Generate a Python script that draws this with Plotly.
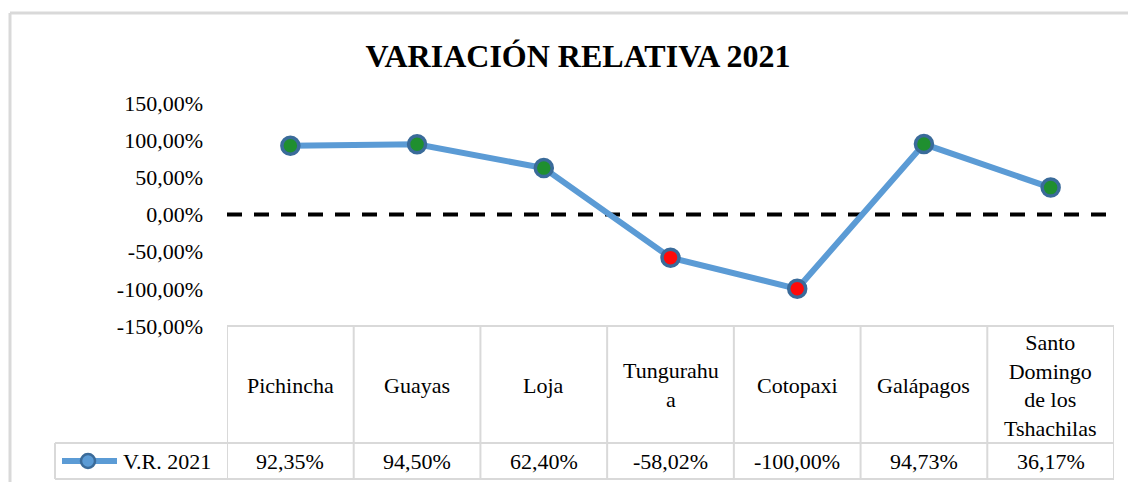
import plotly.graph_objects as go

categories = ["Pichincha", "Guayas", "Loja", "Tungurahua", "Cotopaxi", "Galápagos",
              "Santo Domingo de los Tshachilas"]
header_labels = ["Pichincha", "Guayas", "Loja", "Tungurahu<br>a", "Cotopaxi", "Galápagos",
                 "Santo<br>Domingo<br>de los<br>Tshachilas"]
values = [92.35, 94.50, 62.40, -58.02, -100.00, 94.73, 36.17]
value_labels = ["92,35%", "94,50%", "62,40%", "-58,02%", "-100,00%", "94,73%", "36,17%"]
series_name = "V.R. 2021"
y_ticks = [-150, -100, -50, 0, 50, 100, 150]
y_tick_labels = ["-150,00%", "-100,00%", "-50,00%", "0,00%", "50,00%", "100,00%", "150,00%"]

W, H = 1128, 482
L, R, T, B = 227, 14, 103, 156
PW = W - L - R
PH = H - T - B

def py(pix):
    return (H - B - pix) / PH

def px(pix):
    return (pix - L) / PW

FONT = "Liberation Serif"
LINE_C = "#5b9bd5"
RING_C = "#3a6b9a"
GRID_C = "#d9d9d9"

x_idx = list(range(len(categories)))
marker_colors = ["#1f8f2f" if v >= 0 else "#ff0a0a" for v in values]

fig = go.Figure()
fig.add_trace(go.Scatter(
    x=x_idx, y=values, mode="lines+markers", name=series_name, showlegend=False,
    line=dict(color=LINE_C, width=6),
    marker=dict(size=17, color=marker_colors, line=dict(color=RING_C, width=3.5)),
))

shapes = []
shapes.append(dict(type="line", xref="paper", yref="y", x0=0, x1=1, y0=0, y1=0,
                   line=dict(color="black", width=4, dash="15px,12px"), layer="below"))
shapes.append(dict(type="line", xref="paper", yref="paper", x0=px(10), x1=px(1140),
                   y0=py(13), y1=py(13), line=dict(color=GRID_C, width=3)))
shapes.append(dict(type="line", xref="paper", yref="paper", x0=px(10), x1=px(10),
                   y0=py(13), y1=py(500), line=dict(color=GRID_C, width=3)))
row_top, row_mid, row_bot = py(326), py(443), py(479)
left_leg = px(55)
shapes.append(dict(type="line", xref="paper", yref="paper", x0=0, x1=1, y0=row_top, y1=row_top,
                   line=dict(color=GRID_C, width=2)))
for yy in (row_mid, row_bot):
    shapes.append(dict(type="line", xref="paper", yref="paper", x0=left_leg, x1=1, y0=yy, y1=yy,
                       line=dict(color=GRID_C, width=2)))
shapes.append(dict(type="line", xref="paper", yref="paper", x0=left_leg, x1=left_leg,
                   y0=row_mid, y1=row_bot, line=dict(color=GRID_C, width=2)))
for i in range(len(categories) + 1):
    shapes.append(dict(type="line", xref="x", yref="paper", x0=i - 0.5, x1=i - 0.5,
                       y0=row_top, y1=row_bot, line=dict(color=GRID_C, width=2)))

# legend key (drawn in the data-table legend cell)
leg_y = py(461)
shapes.append(dict(type="line", xref="paper", yref="paper", x0=px(62), x1=px(117),
                   y0=leg_y, y1=leg_y, line=dict(color=LINE_C, width=6)))
shapes.append(dict(type="circle", xref="paper", yref="paper", xsizemode="pixel", ysizemode="pixel",
                   xanchor=px(88), yanchor=leg_y, x0=-7, x1=7, y0=-7, y1=7,
                   fillcolor="#5b9bd5", line=dict(color=RING_C, width=2.5)))

annotations = []
for i, (lab, vl) in enumerate(zip(header_labels, value_labels)):
    annotations.append(dict(x=i, y=py(385), xref="x", yref="paper", text=lab, showarrow=False,
                            xanchor="center", yanchor="middle",
                            font=dict(family=FONT, size=22, color="black")))
    annotations.append(dict(x=i, y=py(461), xref="x", yref="paper", text=vl, showarrow=False,
                            xanchor="center", yanchor="middle",
                            font=dict(family=FONT, size=22, color="black")))
annotations.append(dict(x=px(121), y=leg_y, xref="paper", yref="paper", text=series_name,
                        showarrow=False, xanchor="left", yanchor="middle",
                        font=dict(family=FONT, size=22, color="black")))

fig.update_layout(
    width=W, height=H,
    margin=dict(l=L, r=R, t=T, b=B),
    paper_bgcolor="white", plot_bgcolor="white",
    font=dict(family=FONT, size=22, color="black"),
    title=dict(text="<b>VARIACIÓN RELATIVA 2021</b>", x=578 / W, xanchor="center",
               y=1 - 56 / H, yanchor="middle",
               font=dict(family=FONT, size=32, color="black")),
    xaxis=dict(range=[-0.5, len(categories) - 0.5], showticklabels=False, showgrid=False,
               zeroline=False, showline=False, ticks=""),
    yaxis=dict(range=[-150, 150], tickvals=y_ticks, ticktext=y_tick_labels, showgrid=False,
               zeroline=False, showline=False, ticks="", ticklabelstandoff=23,
               tickfont=dict(family=FONT, size=22, color="black")),
    showlegend=False,
    shapes=shapes, annotations=annotations,
)

fig.write_html("out.html", config={"displayModeBar": False},
               post_script="document.body.style.margin='0';")
